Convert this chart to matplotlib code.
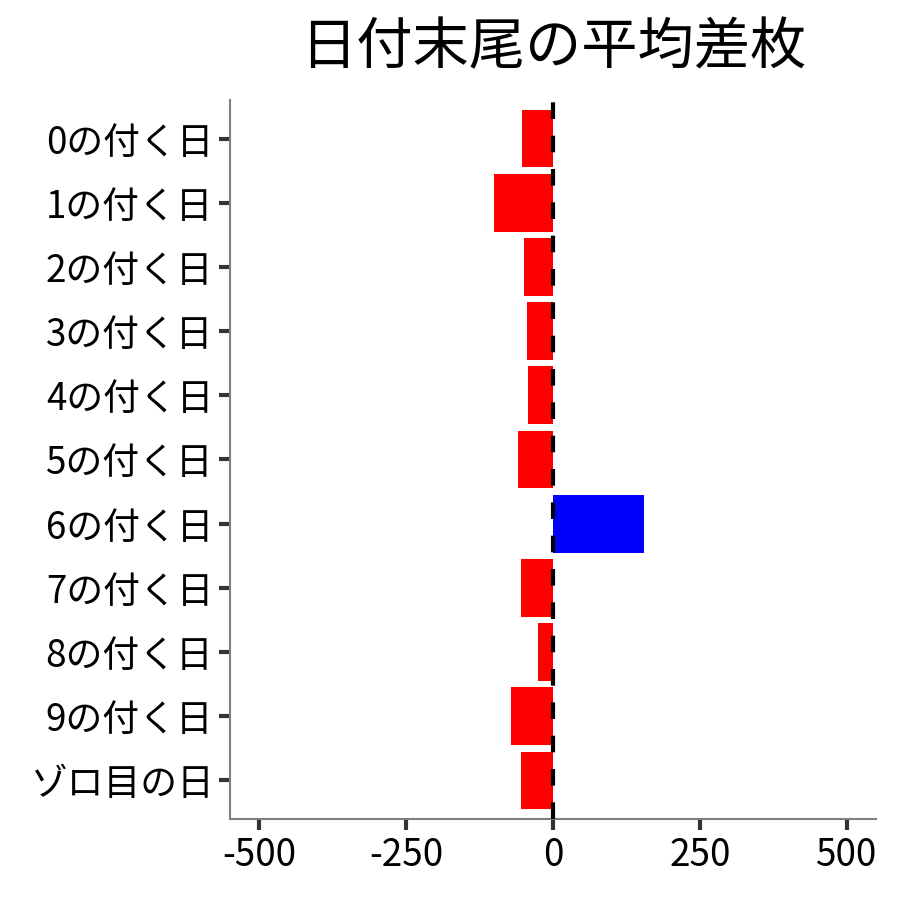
import matplotlib
matplotlib.use("Agg")
import matplotlib.pyplot as plt

plt.rcParams['font.family'] = ['Noto Sans CJK JP', 'DejaVu Sans']

categories = ["0の付く日", "1の付く日", "2の付く日", "3の付く日", "4の付く日",
              "5の付く日", "6の付く日", "7の付く日", "8の付く日", "9の付く日", "ゾロ目の日"]
values = [-52, -101, -50, -45, -42, -59, 155, -54, -25, -71, -55]
xticks = [-500, -250, 0, 250, 500]
title = "日付末尾の平均差枚"

fig = plt.figure(figsize=(9, 9), dpi=100)
ax = fig.add_axes([230/900, 1-819/900, (876-230)/900, (819-100)/900])

ypos = list(range(len(categories)))
colors = ['blue' if v > 0 else 'red' for v in values]
ax.barh(ypos, values, height=0.9, color=colors, zorder=2)
ax.axvline(0, color='black', linestyle=(0, (4, 4)), linewidth=3, zorder=3)

ax.set_xlim(-550, 550)
ax.set_ylim(len(categories) - 0.4, -0.6)
ax.set_yticks(ypos)
ax.set_yticklabels(categories)
ax.set_xticks(xticks)
ax.set_xticklabels([str(t) for t in xticks])

for s in ['top', 'right']:
    ax.spines[s].set_visible(False)
for s in ['left', 'bottom']:
    ax.spines[s].set_color('#7f7f7f')
    ax.spines[s].set_linewidth(1.5)
ax.tick_params(axis='both', colors='#333333', labelcolor='black', length=8, width=3, labelsize=26.5, pad=4)

ax.set_title(title, fontsize=40.5, pad=26)

fig.savefig("out.png", dpi=100)
